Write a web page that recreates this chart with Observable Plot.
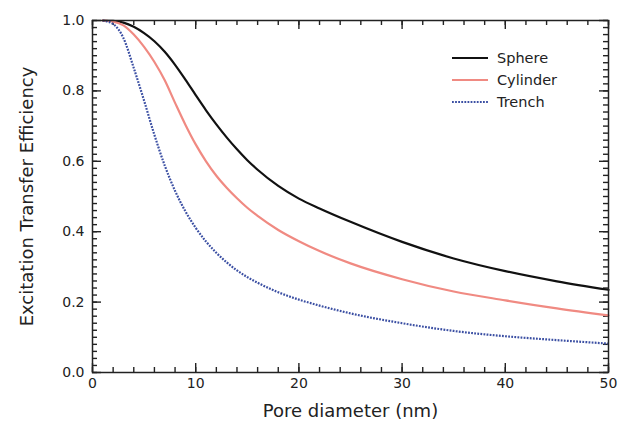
<!DOCTYPE html>
<html>
<head>
<meta charset="utf-8">
<script src="https://cdn.jsdelivr.net/npm/d3@7"></script>
<script src="https://cdn.jsdelivr.net/npm/@observablehq/plot@0.6"></script>
<style>
  html, body { margin: 0; padding: 0; background: #fff; }
  #wrap { position: relative; width: 619px; height: 431px; }
  #legend { position: absolute; left: 452px; top: 47px; font-family: "DejaVu Sans", sans-serif; font-size: 14.5px; color: #222; }
  #legend .row { display: flex; align-items: center; height: 22px; }
  #legend svg { width: 36px; height: 6px; margin-right: 9px; }
</style>
</head>
<body>
<div id="wrap"><div id="legend"></div></div>
<script>
// Pore diameter (nm)
const diameters = [1, 2, 3, 4, 5, 6, 7, 8, 9, 10, 11, 12, 13, 14, 15, 16, 18, 20, 22, 25, 30, 35, 40, 45, 50];
const sphere   = [1.0, 0.999, 0.994, 0.982, 0.964, 0.941, 0.911, 0.874, 0.832, 0.788, 0.745, 0.705, 0.668, 0.634, 0.603, 0.576, 0.53, 0.494, 0.466, 0.428, 0.371, 0.324, 0.288, 0.259, 0.235];
const cylinder = [1.0, 0.997, 0.986, 0.96, 0.925, 0.882, 0.83, 0.766, 0.704, 0.648, 0.6, 0.559, 0.525, 0.495, 0.468, 0.445, 0.405, 0.373, 0.345, 0.31, 0.265, 0.23, 0.205, 0.182, 0.162];
const trench   = [1.0, 0.99, 0.95, 0.865, 0.772, 0.675, 0.588, 0.516, 0.458, 0.411, 0.372, 0.34, 0.313, 0.29, 0.271, 0.255, 0.228, 0.207, 0.19, 0.168, 0.14, 0.118, 0.103, 0.092, 0.082];
const seriesNames = ["Sphere", "Cylinder", "Trench"];
const xMajorTicks = [0, 10, 20, 30, 40, 50];
const yMajorTicks = [0.0, 0.2, 0.4, 0.6, 0.8, 1.0];

const styles = {
  Sphere:   {stroke: "#111111", strokeWidth: 2.2, dash: null},
  Cylinder: {stroke: "#f08a82", strokeWidth: 2.2, dash: null},
  Trench:   {stroke: "#3b4fa3", strokeWidth: 2.2, dash: "1.8,1.3"}
};

const table = [];
[sphere, cylinder, trench].forEach((vals, k) => {
  vals.forEach((v, i) => table.push({series: seriesNames[k], x: diameters[i], y: v}));
});

const W = 619, H = 431, mL = 92, mR = 11, mT = 20, mB = 59;
const innerW = W - mL - mR, innerH = H - mT - mB;
const xMinor = d3.range(0, 50.001, 2);
const yMinor = d3.range(0, 1.0001, 0.02).map(v => +v.toFixed(2));
const tickColor = "#222";
const minorLen = 5, majorLen = 9;

const lines = seriesNames.map(name => Plot.line(table.filter(d => d.series === name), {
  x: "x", y: "y", curve: "monotone-x",
  stroke: styles[name].stroke, strokeWidth: styles[name].strokeWidth,
  strokeDasharray: styles[name].dash, strokeLinecap: styles[name].dash ? "butt" : "round"
}));

// inward ticks on all four sides
function ticksX(values, len) {
  return [
    Plot.tickX(values, {x: d => d, insetTop: innerH - len, stroke: tickColor, strokeWidth: 1.4}),
    Plot.tickX(values, {x: d => d, insetBottom: innerH - len, stroke: tickColor, strokeWidth: 1.4})
  ];
}
function ticksY(values, len) {
  return [
    Plot.tickY(values, {y: d => d, insetRight: innerW - len, stroke: tickColor, strokeWidth: 1.4}),
    Plot.tickY(values, {y: d => d, insetLeft: innerW - len, stroke: tickColor, strokeWidth: 1.4})
  ];
}

const chart = Plot.plot({
  width: W, height: H,
  marginLeft: mL, marginRight: mR, marginTop: mT, marginBottom: mB,
  style: {fontFamily: "DejaVu Sans, sans-serif", fontSize: "14px", color: "#222"},
  x: {domain: [0, 50]},
  y: {domain: [0, 1]},
  marks: [
    ...ticksX(xMinor, minorLen),
    ...ticksX(xMajorTicks, majorLen),
    ...ticksY(yMinor, minorLen),
    ...ticksY(yMajorTicks, majorLen),
    Plot.axisX(xMajorTicks, {anchor: "bottom", tickSize: 0, tickPadding: 6, tickFormat: d => String(d),
      label: "Pore diameter (nm)", labelAnchor: "center", labelArrow: "none", labelOffset: 44, fill: "#222"}),
    Plot.axisY(yMajorTicks, {anchor: "left", tickSize: 0, tickPadding: 8, tickFormat: d => d.toFixed(1),
      label: "Excitation Transfer Efficiency", labelAnchor: "center", labelArrow: "none", labelOffset: 72, fill: "#222"}),
    ...lines,
    Plot.frame({stroke: "#222", strokeWidth: 1.5})
  ]
});

// axis titles: larger, no arrows
chart.querySelectorAll("[aria-label$='axis label']").forEach(g => {
  g.setAttribute("font-size", "18");
  g.style.fontSize = "18px";
  g.querySelectorAll("text, tspan").forEach(t => {
    t.style.fontSize = "18px";
    if (t.childNodes.length === 1 && t.firstChild.nodeType === 3) {
      t.textContent = t.textContent.replace(/\s*[→↑←↓]\s*/g, "");
    }
  });
});

document.getElementById("wrap").prepend(chart);

// legend
const legend = document.getElementById("legend");
seriesNames.forEach(name => {
  const s = styles[name];
  const row = document.createElement("div");
  row.className = "row";
  row.innerHTML = `<svg viewBox="0 0 36 6"><line x1="0" x2="36" y1="3" y2="3" stroke="${s.stroke}" stroke-width="${s.strokeWidth}" ${s.dash ? `stroke-dasharray="${s.dash}"` : ""}/></svg><span>${name}</span>`;
  legend.appendChild(row);
});
</script>
</body>
</html>
